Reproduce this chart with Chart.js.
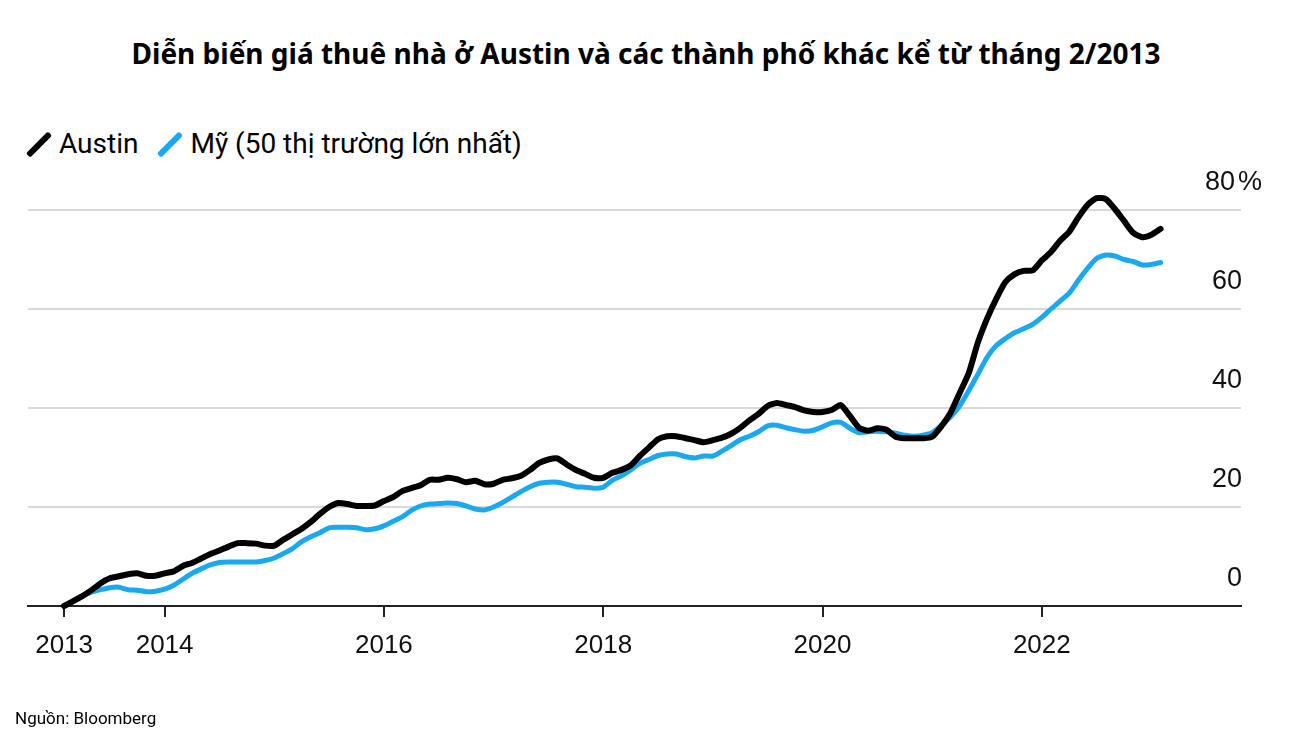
<!DOCTYPE html>
<html lang="vi">
<head>
<meta charset="utf-8">
<title>Diễn biến giá thuê nhà ở Austin</title>
<script src="https://cdn.jsdelivr.net/npm/chart.js@4"></script>
<style>
  body { margin: 0; background: #fff; width: 1292px; height: 752px; position: relative; overflow: hidden; font-family: Roboto, sans-serif; color: #000; }
  #title { position: absolute; top: 37px; left: 0; width: 1292px; text-align: center; font-family: "Noto Sans", sans-serif; font-weight: bold; font-size: 28px; line-height: 32px; white-space: nowrap; }
  #legend { position: absolute; top: 128px; left: 28px; display: flex; font-size: 28px; line-height: 32px; }
  #legend > div { display: flex; align-items: center; margin-right: 21px; }
  #legend .mark { width: 22px; height: 32px; position: relative; margin-right: 9px; }
  #legend .mark > span { position: absolute; left: 8px; top: 0.5px; width: 6px; height: 31px; border-radius: 2px; transform: rotate(45deg); }
  #source { position: absolute; left: 15px; top: 707px; font-size: 17px; line-height: 22px; }
  canvas { position: absolute; left: 0; top: 0; }
</style>
</head>
<body>
<div id="title">Diễn biến giá thuê nhà ở Austin và các thành phố khác kể từ tháng 2/2013</div>
<div id="legend"></div>
<canvas id="myChart" width="1292" height="752"></canvas>
<div id="source">Nguồn: Bloomberg</div>
<script>
// monthly, Feb 2013 .. Feb 2023, % change since Feb 2013
const austin = [
  0, 1.0, 2.0, 3.2, 4.6, 5.6, 6.0, 6.4, 6.6, 6.1, 6.1, 6.6,
  7.0, 8.1, 8.7, 9.6, 10.5, 11.2, 12.0, 12.7, 12.7, 12.6, 12.2, 12.2,
  13.4, 14.5, 15.6, 17.0, 18.6, 20.0, 20.8, 20.6, 20.2, 20.2, 20.3, 21.2,
  22.0, 23.2, 23.8, 24.4, 25.5, 25.5, 25.9, 25.6, 25.0, 25.3, 24.6, 24.7,
  25.5, 25.8, 26.3, 27.5, 28.9, 29.6, 29.8, 28.6, 27.5, 26.7, 25.9, 25.9,
  26.9, 27.5, 28.4, 30.3, 32.0, 33.7, 34.3, 34.3, 33.9, 33.5, 33.1, 33.5,
  34.0, 34.8, 36.0, 37.5, 38.8, 40.4, 41.0, 40.6, 40.2, 39.5, 39.2, 39.2,
  39.6, 40.6, 38.4, 36.0, 35.4, 35.9, 35.6, 34.2, 33.9, 33.9, 33.9, 34.2,
  36.3, 39.0, 43.0, 47.0, 53.2, 58.0, 62.0, 65.4, 67.0, 67.7, 67.8, 69.8,
  71.5, 73.8, 75.6, 78.5, 81.0, 82.4, 82.2, 80.2, 77.8, 75.4, 74.5, 75.0,
  76.2
];
const us = [
  0, 1.0, 2.0, 2.8, 3.3, 3.7, 3.8, 3.3, 3.2, 2.9, 3.0, 3.4,
  4.2, 5.4, 6.6, 7.5, 8.3, 8.8, 8.9, 8.9, 8.9, 8.9, 9.2, 9.7,
  10.6, 11.6, 13.0, 14.0, 14.8, 15.8, 15.9, 15.9, 15.8, 15.4, 15.6, 16.2,
  17.1, 18.0, 19.3, 20.2, 20.6, 20.7, 20.8, 20.7, 20.2, 19.6, 19.4, 20.0,
  20.9, 22.0, 23.1, 24.1, 24.8, 25.0, 25.0, 24.6, 24.1, 24.0, 23.8, 24.0,
  25.4, 26.3, 27.5, 28.8, 29.6, 30.4, 30.7, 30.7, 30.2, 29.9, 30.3, 30.3,
  31.3, 32.4, 33.6, 34.3, 35.2, 36.4, 36.5, 36.0, 35.6, 35.3, 35.5, 36.2,
  37.0, 37.1, 35.9, 35.0, 35.2, 35.3, 35.2, 34.9, 34.5, 34.3, 34.5, 35.0,
  36.5, 38.2, 40.4, 43.5, 46.8, 50.2, 52.6, 54.0, 55.2, 56.0, 56.9, 58.3,
  60.0, 61.6, 63.2, 65.8, 68.2, 70.2, 70.9, 70.7, 70.0, 69.6, 68.9, 69.0,
  69.4
];

const seriesNames = ['Austin', 'Mỹ (50 thị trường lớn nhất)'];
const seriesColors = ['#000000', '#1aa9f0'];

// x ticks: month index (0 = Feb 2013)
const xTickMonths = [0, 11, 35, 59, 83, 107];
const xTickLabels = ['2013', '2014', '2016', '2018', '2020', '2022'];
const yTicks = [0, 20, 40, 60, 80];

seriesNames.forEach((name, i) => {
  let item = document.createElement('div');
  item.innerHTML = `<div class="mark"><span style="background-color: ${seriesColors[i]};"></span></div><div class="name">${name}</div>`;
  document.querySelector('#legend').appendChild(item);
});

// value labels sit above their gridline, right aligned, "%" only on the top one
const yLabels = {
  id: 'yLabels',
  afterDraw(chart) {
    const { ctx, chartArea, scales: { y } } = chart;
    const top = yTicks[yTicks.length - 1];
    ctx.save();
    ctx.font = '27px "Liberation Sans", Arial, sans-serif';
    ctx.fillStyle = '#111';
    ctx.textBaseline = 'middle';
    y.ticks.forEach(t => {
      const py = y.getPixelForValue(t.value) - 27;
      ctx.textAlign = 'right';
      if (t.value === top) {
        ctx.fillText(String(t.value), chartArea.right - 6, py);
        ctx.textAlign = 'left';
        ctx.fillText('%', chartArea.right - 3, py);
      } else {
        ctx.fillText(String(t.value), chartArea.right + 1, py);
      }
    });
    ctx.restore();
  }
};

const toPoints = arr => arr.map((v, i) => ({ x: i, y: v }));

const chart = new Chart('myChart', {
  type: 'line',
  data: {
    datasets: [
      { label: seriesNames[0], data: toPoints(austin), borderColor: seriesColors[0], borderWidth: 6 },
      { label: seriesNames[1], data: toPoints(us), borderColor: seriesColors[1], borderWidth: 5 }
    ]
  },
  options: {
    responsive: false,
    devicePixelRatio: 1,
    animation: false,
    layout: { padding: { left: 28, right: 51, top: 170.4, bottom: 77.8 } },
    elements: {
      point: { radius: 0 },
      line: { tension: 0.2, borderJoinStyle: 'round', borderCapStyle: 'round', fill: false }
    },
    datasets: { line: { clip: false } },
    scales: {
      x: {
        type: 'linear',
        min: -3.95,
        max: 128.8,
        afterBuildTicks: axis => { axis.ticks = xTickMonths.map(v => ({ value: v })); },
        ticks: {
          callback: (v, i) => xTickLabels[i],
          font: { family: '"Liberation Sans", Arial, sans-serif', size: 26 },
          color: '#111',
          padding: 13,
          maxRotation: 0,
          autoSkip: false
        },
        grid: { drawOnChartArea: false, drawTicks: true, tickLength: 11, color: '#222', lineWidth: 2 },
        border: { display: true, color: '#222', width: 2 }
      },
      y: {
        position: 'right',
        min: 0,
        max: 88,
        afterBuildTicks: axis => { axis.ticks = yTicks.map(v => ({ value: v })); },
        ticks: { display: false },
        grid: {
          drawTicks: false,
          lineWidth: 2,
          color: ctx => ctx.tick && ctx.tick.value === 0 ? 'rgba(0,0,0,0)' : '#d9d9d9'
        },
        border: { display: false }
      }
    },
    plugins: {
      legend: false,
      tooltip: { enabled: false }
    }
  },
  plugins: [yLabels]
});
</script>
</body>
</html>
